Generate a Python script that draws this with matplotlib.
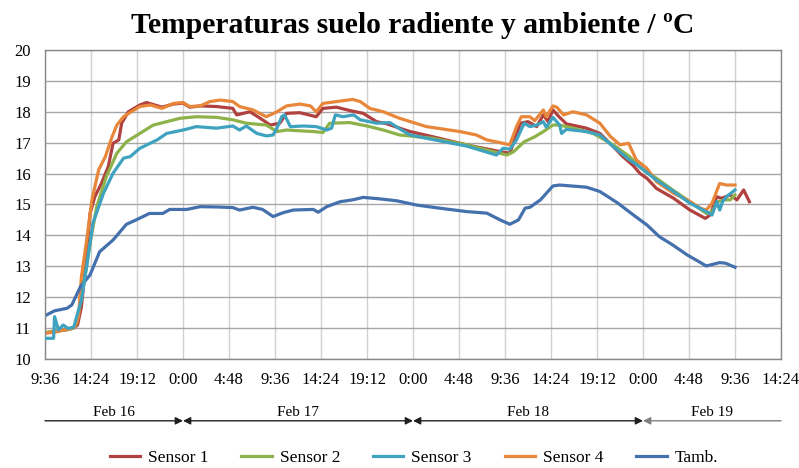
import matplotlib
matplotlib.use('Agg')
import matplotlib.pyplot as plt

# hours counted from Feb 16 0:00
t_amb = [9.6, 10.6, 11.9, 12.4, 13.3, 14.3, 15.3, 16.7, 18.1, 19.1, 20.5, 21.9, 22.6, 24.4, 25.8,
         27.5, 29.2, 29.9, 31.3, 32.3, 33.4, 34.4, 35.5, 37.6, 38.1, 39.0, 40.4, 41.7, 42.8, 44.6,
         46.3, 48.4, 50.8, 53.6, 55.7, 57.1, 58.1, 59.0, 59.7, 60.2, 61.3, 62.6, 63.3, 66.1, 67.5,
         69.3, 71.0, 72.4, 73.7, 75.1, 76.6, 78.0, 78.6, 80.0, 80.6, 81.6]
v_amb = [11.40, 11.56, 11.64, 11.75, 12.34, 12.72, 13.47, 13.85, 14.36, 14.50, 14.71, 14.71, 14.84, 14.84, 14.93,
         14.92, 14.90, 14.82, 14.91, 14.84, 14.61, 14.73, 14.82, 14.84, 14.75, 14.93, 15.09, 15.15, 15.23, 15.18,
         15.12, 14.98, 14.88, 14.77, 14.72, 14.50, 14.36, 14.50, 14.88, 14.91, 15.15, 15.60, 15.63, 15.56, 15.42,
         15.06, 14.66, 14.34, 13.96, 13.69, 13.37, 13.12, 13.01, 13.12, 13.10, 12.97]

t_s1 = [9.6, 11.9, 12.6, 13.0, 13.4, 14.0, 14.3, 14.8, 15.5, 16.2, 16.7, 17.3, 17.6, 18.3, 19.5, 20.2,
        21.8, 23.0, 24.0, 24.7, 25.8, 27.5, 29.2, 29.6, 31.0, 32.3, 33.1, 34.1, 34.8, 36.2, 37.9, 38.6,
        40.0, 41.4, 42.8, 44.2, 45.3, 46.6, 47.7, 50.1, 53.6, 57.1, 58.1, 59.2, 60.0, 60.9, 61.6, 62.1,
        62.6, 63.3, 64.0, 66.1, 67.5, 68.9, 69.9, 71.0, 71.7, 72.4, 73.4, 75.2, 76.9, 78.5, 79.0, 79.7,
        80.2, 81.1, 81.8, 82.5, 83.1]
v_s1 = [10.85, 10.95, 11.00, 11.10, 11.69, 13.53, 14.71, 15.25, 15.69, 16.22, 16.98, 17.09, 17.63, 18.00, 18.22, 18.30,
        18.15, 18.25, 18.28, 18.15, 18.19, 18.17, 18.11, 17.90, 18.00, 17.74, 17.57, 17.63, 17.95, 17.97, 17.84, 18.11,
        18.15, 18.04, 17.95, 17.68, 17.61, 17.47, 17.36, 17.19, 16.93, 16.71, 16.66, 17.63, 17.68, 17.52, 17.90, 17.68,
        18.06, 17.82, 17.61, 17.47, 17.30, 16.87, 16.55, 16.25, 16.00, 15.85, 15.52, 15.20, 14.82, 14.55, 14.66, 15.25,
        15.20, 15.31, 15.15, 15.47, 15.09]

t_s2 = [9.6, 11.9, 12.6, 12.9, 13.6, 14.3, 15.0, 16.0, 17.1, 18.1, 19.5, 20.9, 22.3, 23.7, 25.4, 27.5,
        29.2, 30.6, 32.7, 33.8, 34.8, 37.6, 38.6, 39.3, 41.4, 43.2, 44.9, 46.6, 50.1, 53.6, 56.4, 57.8,
        58.5, 59.6, 60.7, 61.6, 62.6, 63.3, 64.7, 66.8, 68.9, 70.6, 71.7, 73.4, 75.1, 76.9, 78.6, 79.2,
        79.8, 80.5, 81.1, 81.6]
v_s2 = [10.85, 10.95, 11.00, 11.15, 12.34, 13.74, 14.93, 15.90, 16.66, 17.03, 17.30, 17.57, 17.68, 17.79, 17.84, 17.82,
        17.74, 17.63, 17.57, 17.36, 17.41, 17.36, 17.33, 17.63, 17.65, 17.54, 17.41, 17.25, 17.14, 16.93, 16.71, 16.60,
        16.71, 17.03, 17.19, 17.36, 17.57, 17.57, 17.47, 17.30, 16.93, 16.55, 16.20, 15.85, 15.47, 15.09, 14.71, 14.77,
        15.09, 15.15, 15.15, 15.31]

t_s3 = [9.6, 10.5, 10.6, 11.0, 11.5, 12.0, 12.6, 13.4, 14.0, 14.6, 15.7, 16.7, 17.8, 18.5, 19.5, 21.3,
        22.3, 24.0, 25.4, 27.5, 29.2, 29.9, 30.6, 31.7, 32.7, 33.4, 33.8, 34.3, 34.6, 35.2, 36.6, 37.9,
        39.0, 39.5, 39.9, 40.7, 41.8, 42.5, 44.2, 45.6, 46.6, 47.7, 50.1, 53.6, 56.7, 57.4, 58.1, 58.8,
        59.6, 60.2, 60.9, 61.6, 61.9, 62.6, 63.3, 63.5, 64.0, 66.1, 67.5, 68.9, 70.6, 71.3, 73.4, 75.2,
        76.9, 78.6, 79.2, 79.7, 80.0, 80.3, 80.7, 81.6]
v_s3 = [10.67, 10.67, 11.37, 10.94, 11.10, 10.99, 11.03, 11.91, 13.10, 14.39, 15.36, 16.01, 16.50, 16.55, 16.82, 17.09,
        17.30, 17.41, 17.52, 17.47, 17.54, 17.41, 17.54, 17.30, 17.22, 17.25, 17.47, 17.84, 17.90, 17.52, 17.54, 17.52,
        17.41, 17.47, 17.90, 17.84, 17.90, 17.74, 17.63, 17.65, 17.45, 17.25, 17.10, 16.89, 16.60, 16.82, 16.79, 17.09,
        17.63, 17.52, 17.57, 17.68, 17.50, 17.82, 17.57, 17.30, 17.43, 17.36, 17.25, 16.87, 16.44, 16.30, 15.79, 15.42,
        15.04, 14.77, 14.66, 15.09, 14.82, 15.09, 15.25, 15.47]

t_s4 = [9.6, 10.8, 11.9, 12.7, 13.1, 13.4, 14.0, 14.5, 15.2, 15.9, 16.6, 17.1, 17.8, 18.6, 19.5, 20.6,
        21.8, 23.0, 24.0, 24.7, 25.8, 26.8, 27.9, 29.2, 29.9, 31.3, 32.7, 33.8, 34.8, 36.2, 37.3, 37.9,
        38.6, 40.0, 41.7, 42.5, 43.5, 44.9, 46.6, 49.4, 52.9, 54.6, 55.7, 57.1, 58.1, 58.8, 59.3, 60.2,
        60.7, 61.6, 61.9, 62.6, 63.0, 63.7, 64.7, 66.1, 67.5, 68.6, 69.6, 70.5, 71.3, 72.4, 73.4, 75.2,
        76.6, 78.0, 78.6, 79.2, 80.0, 80.7, 81.6]
v_s4 = [10.83, 10.88, 10.96, 11.03, 11.37, 12.66, 13.96, 15.15, 16.12, 16.55, 17.19, 17.57, 17.84, 18.00, 18.17, 18.22,
        18.11, 18.27, 18.30, 18.17, 18.19, 18.33, 18.38, 18.33, 18.17, 18.06, 17.84, 18.00, 18.19, 18.25, 18.19, 18.00,
        18.27, 18.33, 18.40, 18.33, 18.11, 18.00, 17.79, 17.52, 17.36, 17.25, 17.09, 17.00, 16.93, 17.52, 17.84, 17.84,
        17.71, 18.06, 17.84, 18.19, 18.15, 17.90, 18.00, 17.90, 17.63, 17.20, 16.93, 16.98, 16.44, 16.17, 15.74, 15.36,
        15.15, 14.88, 14.82, 15.04, 15.68, 15.63, 15.63]

tick_hours = [9.6 + 4.8 * i for i in range(17)]
tick_labels = ['9:36', '14:24', '19:12', '0:00', '4:48', '9:36', '14:24', '19:12', '0:00',
               '4:48', '9:36', '14:24', '19:12', '0:00', '4:48', '9:36', '14:24']
days = ['Feb 16', 'Feb 17', 'Feb 18', 'Feb 19']
day_edges = [9.6, 24, 48, 72, 86.4]

plt.rcParams['font.family'] = ['Liberation Serif', 'DejaVu Serif']

fig = plt.figure(figsize=(7.99, 4.68), dpi=100)
ax = fig.add_axes([0.0563, 0.2329, 0.9212, 0.6603])

lw = 2.3
ax.plot(t_s1, v_s1, color='#B0413E', lw=lw, label='Sensor 1')
ax.plot(t_s2, v_s2, color='#8DB24A', lw=lw, label='Sensor 2')
ax.plot(t_s3, v_s3, color='#3FA2BF', lw=lw, label='Sensor 3')
ax.plot(t_s4, v_s4, color='#E8863A', lw=lw, label='Sensor 4')
ax.plot(t_amb, v_amb, color='#4470AE', lw=lw, label='Tamb.')
# keep sensor 3 drawn above 2 like the original
ax.lines[2].set_zorder(3)

ax.set_xlim(9.6, 86.4)
ax.set_ylim(10, 20)
ax.set_xticks(tick_hours)
ax.set_xticklabels(tick_labels)
ax.set_yticks(range(10, 21))
ax.tick_params(length=0, labelsize=12)
ax.tick_params(axis='x', pad=9)
ax.tick_params(axis='y', pad=10)
for x in tick_hours:
    ax.axvline(x, color='#D0D0D0', lw=1, zorder=0)
for y in range(10, 21):
    ax.axhline(y, color='#A6A6A6', lw=1, zorder=0)
for s in ax.spines.values():
    s.set_color('#888888')
    s.set_linewidth(1)

ax.set_title('Temperaturas suelo radiente y ambiente / ºC', fontsize=21.3, fontweight='bold', pad=12)

# day band under the time axis
arr_y = -0.20
for i, d in enumerate(days):
    a, b = day_edges[i], day_edges[i + 1]
    if i == 0:
        style = '-|>'
    elif i == len(days) - 1:
        style = '<|-'
    else:
        style = '<|-|>'
    col = '#7F7F7F' if i == len(days) - 1 else '#202020'
    ax.annotate('', xy=(b, arr_y), xytext=(a, arr_y),
                xycoords=('data', 'axes fraction'), textcoords=('data', 'axes fraction'),
                arrowprops=dict(arrowstyle=style, color=col, lw=1, mutation_scale=11,
                                shrinkA=0, shrinkB=0), annotation_clip=False)
    ax.text((a + b) / 2, arr_y + 0.006, d, transform=ax.get_xaxis_transform(),
            ha='center', va='bottom', fontsize=11)

fig.legend(loc='center', bbox_to_anchor=(0.518, 0.022), ncol=5, frameon=False,
           fontsize=12.5, handlelength=1.75, columnspacing=1.9, handletextpad=0.45)

fig.savefig('out.png', dpi=100)
